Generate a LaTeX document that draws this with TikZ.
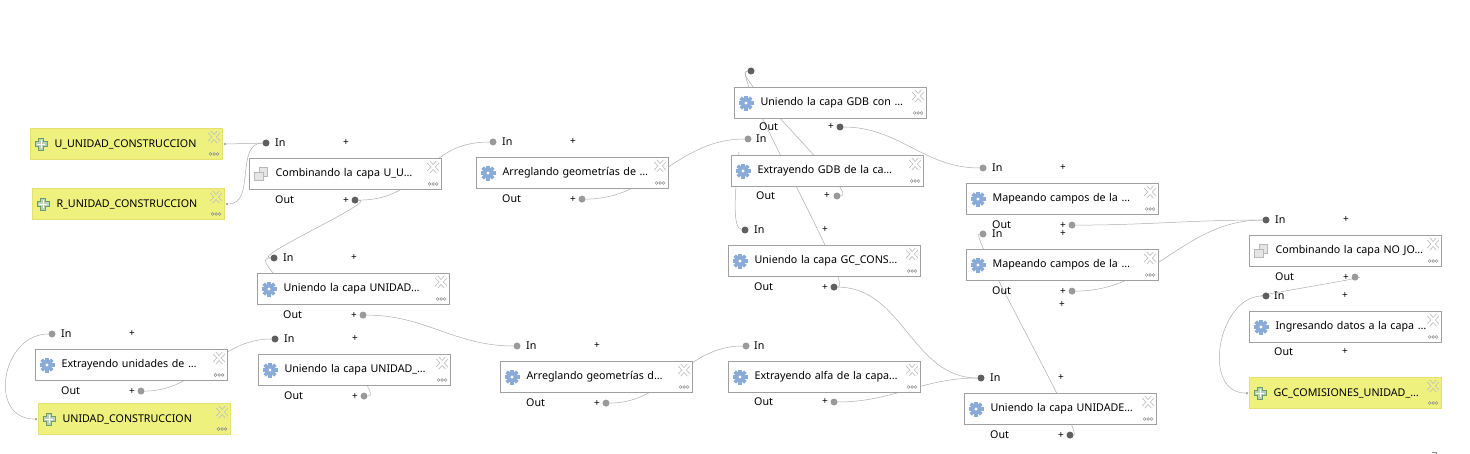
\documentclass[tikz,border=0pt]{standalone}
\usepackage{fontspec}
\setmainfont{Noto Sans}
\usetikzlibrary{backgrounds}

\definecolor{portdark}{HTML}{5F5F5F}
\definecolor{portgrey}{HTML}{9A9A9A}
\definecolor{boxline}{HTML}{A0A0A0}
\definecolor{inputfill}{HTML}{EFF17F}
\definecolor{inputline}{HTML}{E6E06C}
\definecolor{gearblue}{HTML}{8AABD8}
\definecolor{plusgreen}{HTML}{6E9A72}
\definecolor{plusfill}{HTML}{B9D3B0}

\tikzset{
    pics/gearicon/.style={code={
        \foreach \a in {0,45,...,135}
            \fill[gearblue, rotate=\a] (-1.8,-7.5) rectangle (1.8,7.5);
        \fill[gearblue] (0,0) circle (5.6);
        \fill[white] (0,0) circle (1.6);
    }},
    pics/plusicon/.style={code={
        \draw[draw=plusgreen, fill=plusfill, line width=0.9]
            (-2.4,-6) -- (2.4,-6) -- (2.4,-2.4) -- (6,-2.4) -- (6,2.4) -- (2.4,2.4)
            -- (2.4,6) -- (-2.4,6) -- (-2.4,2.4) -- (-6,2.4) -- (-6,-2.4) -- (-2.4,-2.4) -- cycle;
        \draw[white, line width=0.8] (-4.2,0) -- (4.2,0) (0,-4.2) -- (0,4.2);
    }},
    pics/mergeicon/.style={code={
        \draw[draw=black!28, fill=black!10, line width=0.9] (-2,-6.5) rectangle (6.5,2);
        \draw[draw=black!28, fill=black!10, line width=0.9] (-6.5,-2) rectangle (2,6.5);
    }},
    pics/closemark/.style={code={
        \draw[black!25, line width=4] (-4.5,-5) -- (4.5,5) (-4.5,5) -- (4.5,-5);
        \draw[#1, line width=2.4] (-4.5,-5) -- (4.5,5) (-4.5,5) -- (4.5,-5);
    }},
    pics/moredots/.style={code={
        \foreach \d in {-3.6,0,3.6}
            \draw[black!45, line width=0.5] (\d,0) circle (1.4);
    }}
}

\begin{document}
\begin{tikzpicture}[
    x=1pt, y=-1pt,
    basebox/.style={line width=1.1pt, anchor=north west, inner xsep=0pt, inner ysep=0pt,
        text width=192pt, minimum height=31pt, align=left, font=\fontsize{10.7}{13}\selectfont},
    algbox/.style={basebox, draw=boxline, fill=white,
        execute at begin node={\hspace*{26pt}}},
    inputbox/.style={basebox, draw=inputline, fill=inputfill,
        execute at begin node={\hspace*{24pt}}},
    port/.style={circle, minimum size=7pt, inner sep=0pt},
    stub/.style={circle, fill=portgrey, minimum size=2.5pt, inner sep=0pt},
    porttext/.style={anchor=west, inner sep=0pt, font=\fontsize{10.7}{13}\selectfont},
    addmark/.style={inner sep=0pt, font=\fontsize{10}{10}\selectfont},
    wire/.style={draw=black!32, line width=0.5pt}
]
    \useasboundingbox (0,0) rectangle (1470,454);

    % inputs
    \node[inputbox] (uinput) at (30,128) {U\_UNIDAD\_CONSTRUCCION};
    \node[inputbox] (rinput) at (32,188) {R\_UNIDAD\_CONSTRUCCION};
    \node[inputbox] (cinput) at (38,403) {UNIDAD\_CONSTRUCCION};
    \node[inputbox] (ginput) at (1249,377) {GC\_COMISIONES\_UNIDAD\_…};

    % algorithms
    \node[algbox] (combu) at (249,158) {Combinando la capa U\_U…};
    \node[algbox] (arrega) at (476,157) {Arreglando geometrías de …};
    \node[algbox] (gdb) at (734,87) {Uniendo la capa GDB con …};
    \node[algbox] (gdbx) at (731,155) {Extrayendo GDB de la ca…};
    \node[algbox] (gcc) at (728,245) {Uniendo la capa GC\_CONS…};
    \node[algbox] (mapa) at (966,183) {Mapeando campos de la …};
    \node[algbox] (mapb) at (966,249) {Mapeando campos de la …};
    \node[algbox] (nojo) at (1249,235) {Combinando la capa NO JO…};
    \node[algbox] (ingr) at (1249,311) {Ingresando datos a la capa …};
    \node[algbox] (unide) at (964,393) {Uniendo la capa UNIDADE…};
    \node[algbox] (uniu) at (257,273) {Uniendo la capa UNIDAD…};
    \node[algbox] (extu) at (35,349) {Extrayendo unidades de …};
    \node[algbox] (univ) at (258,354) {Uniendo la capa UNIDAD\_…};
    \node[algbox] (arregb) at (500,361) {Arreglando geometrías d…};
    \node[algbox] (alfa) at (728,361) {Extrayendo alfa de la capa…};

    % icons
    \foreach \n in {arrega,gdb,gdbx,gcc,mapa,mapb,ingr,unide,uniu,extu,univ,arregb,alfa}
        \pic at ([xshift=12]\n.west) {gearicon};
    \foreach \n in {combu,nojo}
        \pic at ([xshift=12]\n.west) {mergeicon};
    \foreach \n in {uinput,rinput,cinput,ginput}
        \pic at ([xshift=11]\n.west) {plusicon};
    \foreach \n in {combu,arrega,gdb,gdbx,gcc,mapa,mapb,nojo,ingr,unide,uniu,extu,univ,arregb,alfa} {
        \pic at ([shift={(-9,9)}]\n.north east) {closemark=white};
        \pic at ([shift={(-9,26)}]\n.north east) {moredots};
    }
    \foreach \n in {uinput,rinput,cinput,ginput} {
        \pic at ([shift={(-9,9)}]\n.north east) {closemark=inputfill};
        \pic at ([shift={(-9,26)}]\n.north east) {moredots};
    }

    % ports
    \foreach \n/\ci/\co in {combu/portdark/portdark, arrega/portgrey/portgrey, gcc/portdark/portdark,
        mapa/portgrey/portgrey, mapb/portgrey/portgrey, nojo/portdark/portgrey, unide/portdark/portdark,
        uniu/portdark/portgrey, extu/portgrey/portgrey, univ/portdark/portgrey,
        arregb/portgrey/portgrey} {
        \node[port, fill=\ci] (\n In) at ([shift={(17,-15)}]\n.north west) {};
        \node[porttext] (\n InText) at ([shift={(26,-15)}]\n.north west) {In};
        \node[addmark] (\n InAdd) at ([shift={(97,-15)}]\n.north west) {+};
        \node[porttext] (\n OutText) at ([shift={(26,10)}]\n.south west) {Out};
        \node[addmark] (\n OutAdd) at ([shift={(97,10)}]\n.south west) {+};
        \node[port, fill=\co] (\n Out) at ([shift={(106,10)}]\n.south west) {};
    }

    \node[port, fill=portdark] (gdbIn) at (751,71) {};
    \node[porttext] (gdbOutText) at (759,127) {Out};
    \node[addmark] (gdbOutAdd) at (831,127) {+};
    \node[port, fill=portdark] (gdbOut) at (840,127) {};

    \node[port, fill=portgrey] (gdbxIn) at (748,139) {};
    \node[porttext] (gdbxInText) at (756,139) {In};
    \node[porttext] (gdbxOutText) at (756,196) {Out};
    \node[addmark] (gdbxOutAdd) at (827,196) {+};
    \node[port, fill=portgrey] (gdbxOut) at (837,196) {};

    \node[port, fill=portgrey] (alfaIn) at (746,346) {};
    \node[porttext] (alfaInText) at (754,346) {In};
    \node[porttext] (alfaOutText) at (754,402) {Out};
    \node[addmark] (alfaOutAdd) at (825,402) {+};
    \node[port, fill=portgrey] (alfaOut) at (834,402) {};

    \node[port, fill=portdark] (ingrIn) at (1266,296) {};
    \node[porttext] (ingrInText) at (1274,296) {In};
    \node[addmark] (ingrInAdd) at (1345,296) {+};
    \node[porttext] (ingrOutText) at (1274,352) {Out};
    \node[addmark] (ingrOutAdd) at (1345,352) {+};

    \node[addmark] (spareAdd) at (1062,305) {+};

    \node[stub] (uStub) at ([xshift=2]uinput.east) {};
    \node[stub] (rStub) at ([xshift=2]rinput.east) {};
    \node[stub] (cStub) at ([xshift=-2]cinput.west) {};
    \node[stub] (gStub) at ([xshift=-2]ginput.west) {};

    \coordinate (gdbxTick) at (739,152);
    \coordinate (univHide) at (362,372);
    \coordinate (uniuHide) at (282,285);

    % links, behind the boxes
    \begin{scope}[on background layer]
        \draw[wire] (uStub) -- (combuIn);
        \draw[wire] (rStub) to[out=0, in=180] (combuIn);
        \draw[wire] (combuOut) to[out=0, in=180, looseness=1.2] (arregaIn);
        \draw[wire] (combuOut) to[out=0, in=180, looseness=0.5] (uniuIn);
        \draw[wire] (arregaOut) to[out=0, in=180] (gdbxIn);
        \draw[wire] (gdbxOut) to[out=0, in=180, looseness=0.35] (gdbIn);
        \draw[wire] (gccOut) to[out=0, in=180, looseness=0.2] (gdbIn);
        \draw[wire] (gccIn) .. controls (733,228) and (734,200) .. (gdbxTick);
        \draw[wire] (gdbOut) to[out=0, in=180] (mapaIn);
        \draw[wire] (gccOut) to[out=0, in=180] (unideIn);
        \draw[wire] (mapaOut) to[out=0, in=180] (nojoIn);
        \draw[wire] (mapbOut) to[out=0, in=180] (nojoIn);
        \draw[wire] (unideOut) to[out=0, in=180, looseness=0.12] (mapbIn);
        \draw[wire] (nojoOut) to[out=0, in=180, looseness=0.3] (ingrIn);
        \draw[wire] (gStub) to[out=180, in=180, looseness=1.16] (ingrIn);
        \draw[wire] (cStub) to[out=180, in=180, looseness=1.4] (extuIn);
        \draw[wire] (extuOut) to[out=0, in=180] (univIn);
        \draw[wire] (univOut) to[out=0, in=270, looseness=0.9] (univHide);
        \draw[wire] (uniuIn) to[out=180, in=120, looseness=1.2] (uniuHide);
        \draw[wire] (uniuOut) to[out=0, in=180] (arregbIn);
        \draw[wire] (arregbOut) to[out=0, in=180] (alfaIn);
        \draw[wire] (alfaOut) to[out=0, in=180] (unideIn);
    \end{scope}

    \draw[black!45, line width=0.5pt] (1432,452.5) -- (1436,452.5) -- (1436,454);
\end{tikzpicture}
\end{document}
